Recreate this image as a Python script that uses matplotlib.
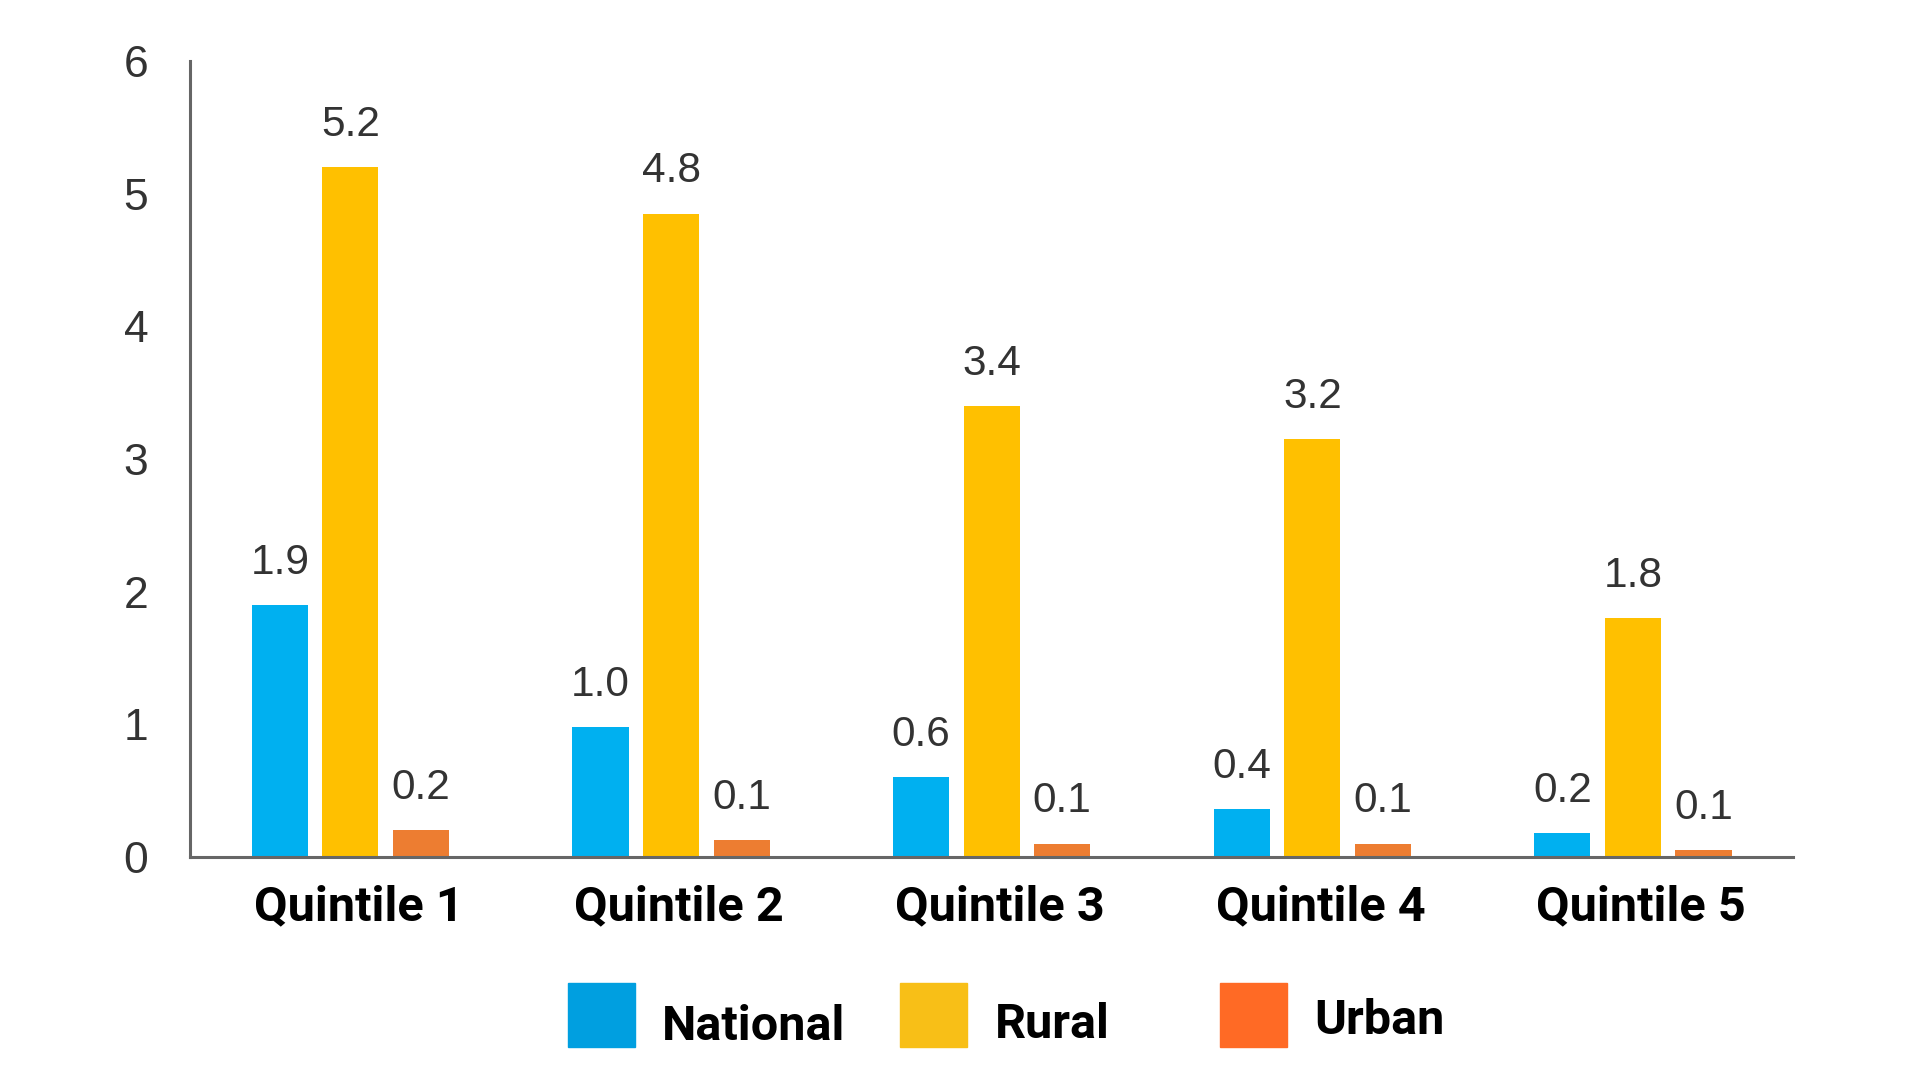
import numpy as np
import matplotlib.pyplot as plt
from matplotlib.patches import Rectangle

quintiles = ["Quintile 1", "Quintile 2", "Quintile 3", "Quintile 4", "Quintile 5"]
national = [1.9, 0.98, 0.6, 0.36, 0.18]
rural = [5.2, 4.85, 3.4, 3.15, 1.8]
urban = [0.2, 0.13, 0.1, 0.1, 0.05]
national_labels = ["1.9", "1.0", "0.6", "0.4", "0.2"]
rural_labels = ["5.2", "4.8", "3.4", "3.2", "1.8"]
urban_labels = ["0.2", "0.1", "0.1", "0.1", "0.1"]
series_names = ["National", "Rural", "Urban"]
bar_colors = ["#00B0F0", "#FFC000", "#ED7D31"]
legend_colors = ["#009FE0", "#F8BF17", "#FF6A25"]


def main():
    fig = plt.figure(figsize=(19.2, 10.8), dpi=100)
    ax = fig.add_axes([0.099, 0.2065, 0.835, 0.737])

    x = np.arange(len(quintiles))
    step = 0.22
    width = 0.175
    series = [national, rural, urban]
    labels = [national_labels, rural_labels, urban_labels]
    for i, (vals, labs, col) in enumerate(zip(series, labels, bar_colors)):
        xs = x + (i - 1) * step
        ax.bar(xs, vals, width, color=col)
        for xi, v, t in zip(xs, vals, labs):
            ax.annotate(t, (xi, v), xytext=(0, 16), textcoords="offset points",
                        ha="center", va="bottom", fontsize=30.5,
                        family="Liberation Sans", color="#333333")

    ax.set_xlim(-0.5, 4.5)
    ax.set_ylim(0, 6)
    ax.set_yticks(range(7))
    # group labels sit a touch right of the group centre
    ax.set_xticks(x + 0.025)
    ax.set_xticklabels(quintiles, fontsize=35, fontweight="bold", family="Roboto")
    for lab in ax.get_yticklabels():
        lab.set_family("Liberation Sans")
        lab.set_fontsize(32)
        lab.set_color("#333333")
    ax.tick_params(axis="x", length=0, pad=20)
    ax.tick_params(axis="y", length=0, pad=30)
    for s in ["top", "right"]:
        ax.spines[s].set_visible(False)
    for s in ["left", "bottom"]:
        ax.spines[s].set_color("#666666")
        ax.spines[s].set_linewidth(2.2)

    # legend drawn by hand
    W, H = 1920, 1080
    patch_x = [568, 900, 1220]
    text_x = [662, 995, 1314]
    text_y = [1027, 1025, 1021]
    for px, tx, ty, name, col in zip(patch_x, text_x, text_y, series_names, legend_colors):
        fig.patches.append(Rectangle((px / W, 1 - 1047 / H), 67 / W, 64 / H,
                                     transform=fig.transFigure, color=col))
        fig.text(tx / W, 1 - ty / H, name, fontsize=35, fontweight="bold",
                 family="Roboto", va="center", ha="left")

    fig.savefig("out.png", dpi=100)


if __name__ == '__main__':
    main()
